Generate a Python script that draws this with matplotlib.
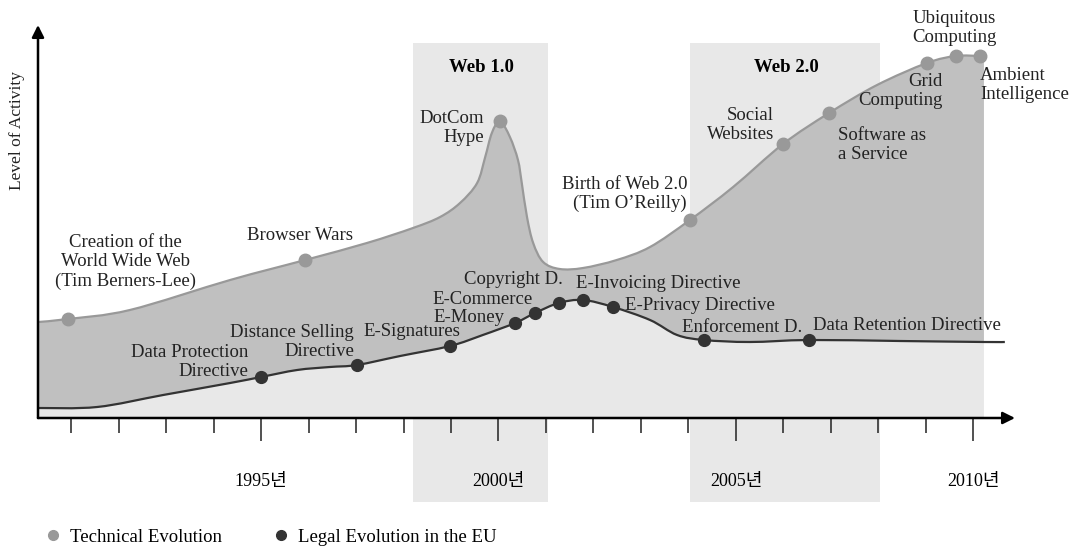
import numpy as np
import matplotlib
matplotlib.use("Agg")
import matplotlib.pyplot as plt
from matplotlib.lines import Line2D
from matplotlib.path import Path
from matplotlib.patches import PathPatch

plt.rcParams['font.family'] = ['Liberation Serif', 'Noto Sans CJK KR']

# technical evolution curve (year, level of activity)
tech_years = [1990.31, 1990.94, 1992.24, 1994.35, 1995.93, 1997.23, 1998.20, 1998.77,
              1999.19, 1999.55, 1999.72, 1999.86, 2000.03, 2000.24, 2000.41, 2000.49,
              2000.60, 2000.73, 2000.94, 2001.29, 2001.78, 2002.49, 2003.19, 2004.03,
              2004.94, 2005.99, 2006.96, 2007.97, 2009.02, 2009.63, 2010.14, 2010.22]
tech_level = [96, 99, 108, 138, 158, 175, 190, 201,
              215, 235, 261, 285, 297, 281, 258, 235,
              201, 175, 156, 149, 150, 158, 171, 198,
              231, 274, 305, 333, 355, 362, 362, 362]

# technical milestones
tech_events = ["Creation of the\nWorld Wide Web\n(Tim Berners-Lee)", "Browser Wars",
               "DotCom\nHype", "Birth of Web 2.0\n(Tim O\u2019Reilly)", "Social\nWebsites",
               "Software as\na Service", "Grid\nComputing", "Ubiquitous\nComputing",
               "Ambient\nIntelligence"]
tech_ev_years = [1990.94, 1995.93, 2000.03, 2004.03, 2005.99, 2006.96, 2009.02, 2009.63, 2010.14]
tech_ev_level = [99, 158, 297, 198, 274, 305, 355, 362, 362]

# legal evolution curve
legal_years = [1990.31, 1991.55, 1992.94, 1994.35, 1995.00, 1995.76, 1996.45, 1997.02,
               1997.93, 1998.98, 1999.67, 2000.35, 2000.77, 2001.27, 2001.78, 2002.41,
               2003.19, 2003.76, 2004.33, 2005.29, 2006.54, 2008.45, 2010.22, 2010.66]
legal_level = [10, 11, 23, 35, 41, 48, 51, 53,
               62, 72, 83, 95, 105, 115, 118, 111,
               98, 83, 78, 76, 78, 77, 76, 76]

legal_events = ["Data Protection\nDirective", "Distance Selling\nDirective", "E-Signatures",
                "E-Money", "E-Commerce", "Copyright D.", "E-Invoicing Directive",
                "E-Privacy Directive", "Enforcement D.", "Data Retention Directive"]
legal_ev_years = [1995.00, 1997.02, 1998.98, 2000.35, 2000.77, 2001.27, 2001.78, 2002.41,
                  2004.33, 2006.54]
legal_ev_level = [41, 53, 72, 95, 105, 115, 118, 111, 78, 78]

# periods
eras = ["Web 1.0", "Web 2.0"]
era_start = [1998.2, 2004.03]
era_end = [2001.04, 2008.03]

year_ticks = [1995, 2000, 2005, 2010]
year_labels = ["1995년", "2000년", "2005년", "2010년"]
minor_years = list(range(1991, 2011))


def smooth_path(xs, ys):
    """bezier (catmull-rom) through the points, returns vertices + codes"""
    p = np.column_stack([xs, ys]).astype(float)
    q = np.vstack([p[0], p, p[-1]])
    verts = [p[0]]
    codes = [Path.MOVETO]
    for i in range(1, len(q) - 2):
        c1 = q[i] + (q[i + 1] - q[i - 1]) / 6
        c2 = q[i + 1] - (q[i + 2] - q[i]) / 6
        verts += [c1, c2, q[i + 1]]
        codes += [Path.CURVE4] * 3
    return verts, codes


fig = plt.figure(figsize=(10.73, 5.49), dpi=100)
ax = fig.add_axes([38 / 1073, 131 / 549, 977 / 1073, 393 / 549])
ax.set_xlim(1990.305, 2010.874)
ax.set_ylim(0, 393)

fs = 13.5
light = '#e8e8e8'
dark = '#c0c0c0'

for s, e in zip(era_start, era_end):
    ax.axvspan(s, e, ymin=-0.214, ymax=0.954, color=light, lw=0, zorder=0, clip_on=False)
for name, s, e in zip(eras, era_start, era_end):
    ax.text((s + e) / 2 + 0.03, 351, name, ha='center', va='center', fontsize=fs,
            fontweight='bold', color='black', zorder=5)

# areas
lx = np.array(legal_years)
ly = np.array(legal_level)
keep = lx <= tech_years[-1]

v, c = smooth_path(lx[keep], ly[keep])
v = v + [(lx[keep][-1], 0), (lx[0], 0), (lx[0], 0)]
c = c + [Path.LINETO, Path.LINETO, Path.CLOSEPOLY]
ax.add_patch(PathPatch(Path(v, c), fc=light, lw=0, zorder=1))

vt, ct = smooth_path(tech_years, tech_level)
vl, cl = smooth_path(lx[keep][::-1], ly[keep][::-1])
cl[0] = Path.LINETO
v = vt + vl + [vl[-1]]
c = ct + cl + [Path.CLOSEPOLY]
ax.add_patch(PathPatch(Path(v, c), fc=dark, lw=0, zorder=1))

ax.add_patch(PathPatch(Path(*smooth_path(tech_years, tech_level)), fc='none',
                       ec='#999999', lw=1.6, zorder=2))
ax.add_patch(PathPatch(Path(*smooth_path(legal_years, legal_level)), fc='none',
                       ec='#333333', lw=1.6, zorder=2))
ax.plot(tech_ev_years, tech_ev_level, 'o', color='#999999', ms=9, zorder=3)
ax.plot(legal_ev_years, legal_ev_level, 'o', color='#333333', ms=8.5, zorder=3)

# label positions (year, level, alignment)
tech_lab = [(1992.14, 156, 'center'), (1995.82, 183, 'center'), (1999.69, 290, 'right'),
            (2003.97, 224, 'right'), (2005.80, 293, 'right'), (2007.15, 273, 'left'),
            (2009.34, 327, 'right'), (2009.59, 390, 'center'), (2010.14, 333, 'left')]
for txt, (x, y, ha) in zip(tech_events, tech_lab):
    ax.text(x, y, txt, ha=ha, va='center', fontsize=fs, color='#222222',
            linespacing=1.15, multialignment=ha, zorder=5, clip_on=False)

legal_lab = [(1994.73, 56, 'right'), (1996.96, 76, 'right'), (1998.18, 87, 'center'),
             (2000.12, 100, 'right'), (2000.73, 119, 'right'), (2001.36, 139, 'right'),
             (2001.63, 135, 'left'), (2002.66, 112, 'left'), (2006.39, 91, 'right'),
             (2006.62, 93, 'left')]
for txt, (x, y, ha) in zip(legal_events, legal_lab):
    ax.text(x, y, txt, ha=ha, va='center', fontsize=fs, color='#222222',
            linespacing=1.15, multialignment=ha, zorder=5)

# axes with arrows
for sp in ax.spines.values():
    sp.set_visible(False)
ax.annotate('', xy=(1, 0), xytext=(0, 0), xycoords='axes fraction',
            arrowprops=dict(arrowstyle='-|>', lw=1.8, color='black', mutation_scale=18,
                            shrinkA=0, shrinkB=0), zorder=6)
ax.annotate('', xy=(0, 1), xytext=(0, 0), xycoords='axes fraction',
            arrowprops=dict(arrowstyle='-|>', lw=1.8, color='black', mutation_scale=18,
                            shrinkA=0, shrinkB=0), zorder=6)

ax.set_xticks(year_ticks)
ax.set_xticklabels(year_labels, fontsize=13)
ax.set_xticks(minor_years, minor=True)
ax.tick_params(axis='x', which='major', length=16.5, width=1.1, color='#222222', pad=23)
ax.tick_params(axis='x', which='minor', length=10.8, width=1.1, color='#222222')
ax.set_yticks([])

fig.text(17 / 1073, 1 - 130 / 549, "Level of Activity", rotation=90, ha='center',
         va='center', fontsize=12.5, color='#222222')

handles = [Line2D([], [], ls='none', marker='o', color='#999999', ms=7),
           Line2D([], [], ls='none', marker='o', color='#333333', ms=7)]
fig.legend(handles, ["Technical Evolution", "Legal Evolution in the EU"],
           loc='center left', bbox_to_anchor=(45.5 / 1073, 1 - 537 / 549), ncol=2,
           frameon=False, fontsize=fs, handletextpad=0.5, columnspacing=2.75,
           handlelength=0.8, borderpad=0, borderaxespad=0)

fig.savefig("out.png", dpi=100)
